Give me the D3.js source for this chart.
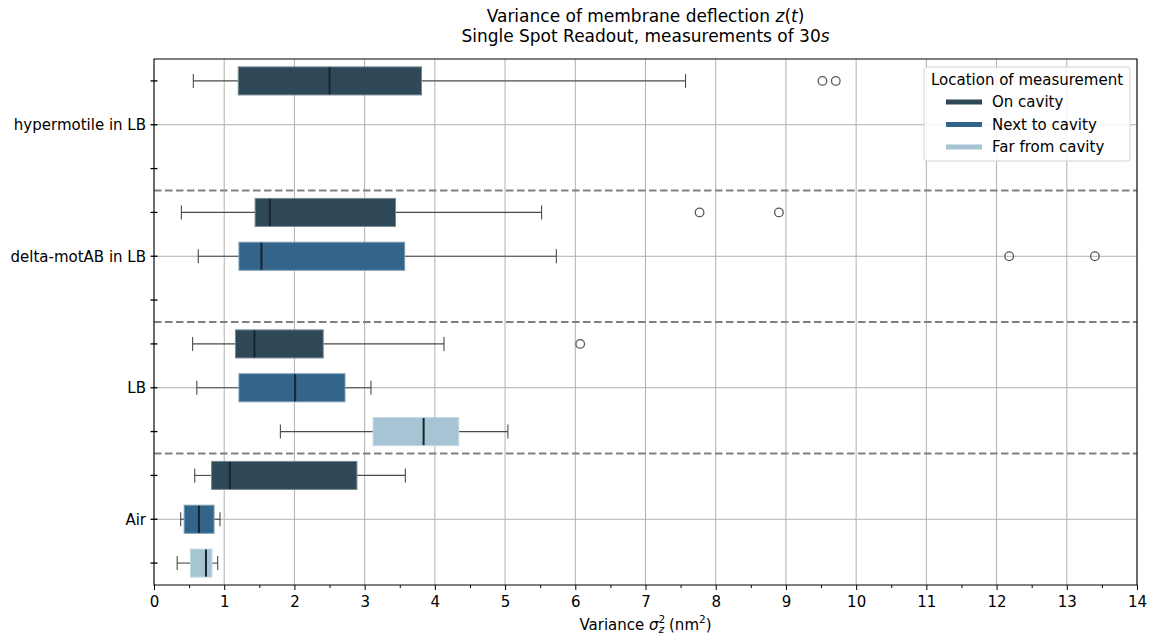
<!DOCTYPE html>
<html>
<head>
<meta charset="utf-8">
<script src="https://cdn.jsdelivr.net/npm/d3@7"></script>
<style>
  html, body { margin: 0; padding: 0; background: #ffffff; }
  svg { display: block; font-family: "DejaVu Sans", sans-serif; }
</style>
</head>
<body>
<svg id="chart" width="1155" height="640"></svg>
<script>
// Sample groups (y axis) and measurement locations (hue)
const groups = ["hypermotile in LB", "delta-motAB in LB", "LB", "Air"];
const locations = ["On cavity", "Next to cavity", "Far from cavity"];
const locationColors = ["#2f4858", "#33658a", "#a6c4d4"];

// Box statistics, one entry per drawn box
const boxGroup    = ["hypermotile in LB", "delta-motAB in LB", "delta-motAB in LB", "LB", "LB", "LB", "Air", "Air", "Air"];
const boxLocation = ["On cavity", "On cavity", "Next to cavity", "On cavity", "Next to cavity", "Far from cavity", "On cavity", "Next to cavity", "Far from cavity"];
const whiskerLow  = [0.56, 0.39, 0.63, 0.55, 0.61, 1.80, 0.58, 0.38, 0.33];
const quartile1   = [1.20, 1.44, 1.21, 1.16, 1.21, 3.12, 0.82, 0.43, 0.52];
const medians     = [2.50, 1.65, 1.53, 1.43, 2.01, 3.84, 1.08, 0.64, 0.74];
const quartile3   = [3.81, 3.44, 3.57, 2.41, 2.72, 4.34, 2.89, 0.855, 0.826];
const whiskerHigh = [7.57, 5.52, 5.73, 4.13, 3.09, 5.04, 3.58, 0.94, 0.907];
const outliers    = [[9.52, 9.71], [7.77, 8.90], [12.18, 13.40], [6.07], [], [], [], [], []];

const xTicks = [0, 1, 2, 3, 4, 5, 6, 7, 8, 9, 10, 11, 12, 13, 14];

const svg = d3.select("#chart");
const margin = { left: 154, right: 1137, top: 59, bottom: 585 };
const fontSize = 15;

const x = d3.scaleLinear().domain([0, 14]).range([margin.left, margin.right]);
// each group has three slots, one per location
const slotCount = groups.length * locations.length;
const y = d3.scaleLinear().domain([-0.5, slotCount - 0.5]).range([margin.top, margin.bottom]);
const slotOf = (g, loc) => groups.indexOf(g) * locations.length + locations.indexOf(loc);
const slotH = y(1) - y(0);
const boxH = slotH * 0.64;
const color = d3.scaleOrdinal().domain(locations).range(locationColors);

const plot = svg.append("g");

// Grid: vertical lines at every integer, horizontal lines at group centres
plot.append("g").selectAll("line").data(xTicks).join("line")
  .attr("x1", d => x(d)).attr("x2", d => x(d))
  .attr("y1", margin.top).attr("y2", margin.bottom)
  .attr("stroke", "#b0b0b0").attr("stroke-width", 1);
plot.append("g").selectAll("line").data(groups).join("line")
  .attr("x1", margin.left).attr("x2", margin.right)
  .attr("y1", (d, i) => y(i * 3 + 1)).attr("y2", (d, i) => y(i * 3 + 1))
  .attr("stroke", "#b0b0b0").attr("stroke-width", 1);

// Dashed separators between groups
plot.append("g").selectAll("line").data(d3.range(1, groups.length)).join("line")
  .attr("x1", margin.left).attr("x2", margin.right)
  .attr("y1", d => y(d * 3 - 0.5)).attr("y2", d => y(d * 3 - 0.5))
  .attr("stroke", "#808080").attr("stroke-width", 1.8).attr("stroke-dasharray", "7.5,3.5");

// Boxes
const boxes = boxGroup.map((g, i) => ({
  slot: slotOf(g, boxLocation[i]), loc: boxLocation[i],
  lo: whiskerLow[i], q1: quartile1[i], med: medians[i], q3: quartile3[i], hi: whiskerHigh[i],
  out: outliers[i]
}));

const bg = plot.append("g").selectAll("g").data(boxes).join("g");
const whiskerColor = "#4a4a4a";
// whiskers
bg.append("line")
  .attr("x1", d => x(d.lo)).attr("x2", d => x(d.q1))
  .attr("y1", d => y(d.slot)).attr("y2", d => y(d.slot))
  .attr("stroke", whiskerColor).attr("stroke-width", 1.1);
bg.append("line")
  .attr("x1", d => x(d.q3)).attr("x2", d => x(d.hi))
  .attr("y1", d => y(d.slot)).attr("y2", d => y(d.slot))
  .attr("stroke", whiskerColor).attr("stroke-width", 1.1);
// caps
["lo", "hi"].forEach(k => {
  bg.append("line")
    .attr("x1", d => x(d[k])).attr("x2", d => x(d[k]))
    .attr("y1", d => y(d.slot) - boxH / 4).attr("y2", d => y(d.slot) + boxH / 4)
    .attr("stroke", whiskerColor).attr("stroke-width", 1.1);
});
// box body
bg.append("rect")
  .attr("x", d => x(d.q1)).attr("width", d => x(d.q3) - x(d.q1))
  .attr("y", d => y(d.slot) - boxH / 2).attr("height", boxH)
  .attr("fill", d => color(d.loc))
  .attr("stroke", d => d3.interpolateRgb(color(d.loc), "#ffffff")(0.35))
  .attr("stroke-width", 1);
// median
bg.append("line")
  .attr("x1", d => x(d.med)).attr("x2", d => x(d.med))
  .attr("y1", d => y(d.slot) - boxH / 2 + 0.5).attr("y2", d => y(d.slot) + boxH / 2 - 0.5)
  .attr("stroke", "#16242d").attr("stroke-width", 2);
// outliers
bg.selectAll("circle").data(d => d.out.map(v => ({ v, slot: d.slot }))).join("circle")
  .attr("cx", d => x(d.v)).attr("cy", d => y(d.slot)).attr("r", 4.3)
  .attr("fill", "none").attr("stroke", "#5a5a5a").attr("stroke-width", 1.3);

// Frame
svg.append("rect")
  .attr("x", margin.left).attr("y", margin.top)
  .attr("width", margin.right - margin.left).attr("height", margin.bottom - margin.top)
  .attr("fill", "none").attr("stroke", "#000").attr("stroke-width", 1);

// X axis
const xAxis = svg.append("g").attr("transform", `translate(0,${margin.bottom})`)
  .call(d3.axisBottom(x).tickValues(xTicks).tickFormat(d3.format("d")).tickSize(5).tickPadding(6));
xAxis.select(".domain").remove();
xAxis.selectAll("text").attr("font-size", fontSize).attr("fill", "#000").attr("font-family", "DejaVu Sans");
xAxis.selectAll("line").attr("stroke", "#000");
svg.append("g").attr("transform", `translate(0,${margin.bottom})`)
  .call(d3.axisBottom(x).tickValues(d3.range(0.5, 14, 1)).tickFormat("").tickSize(3))
  .call(g => g.select(".domain").remove())
  .selectAll("line").attr("stroke", "#000");

// Y axis: ticks at every slot (crossing the spine), labels at group centres
const yTicks = d3.range(slotCount);
const ya = svg.append("g");
ya.selectAll("line").data(yTicks).join("line")
  .attr("x1", margin.left - 3.5).attr("x2", margin.left + 3.5)
  .attr("y1", d => y(d)).attr("y2", d => y(d))
  .attr("stroke", "#000").attr("stroke-width", 1.3);
ya.selectAll("text").data(groups).join("text")
  .attr("x", margin.left - 8).attr("y", (d, i) => y(i * 3 + 1))
  .attr("dy", "0.35em").attr("text-anchor", "end")
  .attr("font-size", fontSize).attr("fill", "#000")
  .text(d => d);

// X label with math styling
const xl = svg.append("text").attr("x", (margin.left + margin.right) / 2).attr("y", 630)
  .attr("text-anchor", "middle").attr("font-size", fontSize).attr("fill", "#000");
xl.append("tspan").text("Variance ");
xl.append("tspan").attr("font-style", "italic").text("σ");
xl.append("tspan").attr("font-size", 10.5).attr("dy", -7).text("2");
xl.append("tspan").attr("font-size", 10.5).attr("font-style", "italic").attr("dx", -6.5).attr("dy", 10).text("z");
xl.append("tspan").attr("dy", -3).text(" (nm");
xl.append("tspan").attr("font-size", 10.5).attr("dy", -7).text("2");
xl.append("tspan").attr("dy", 7).text(")");

// Title (two lines)
const cx = (margin.left + margin.right) / 2;
const titleSize = 17;
const t1 = svg.append("text").attr("x", cx).attr("y", 21.5).attr("text-anchor", "middle")
  .attr("font-size", titleSize).attr("fill", "#000");
t1.append("tspan").text("Variance of membrane deflection ");
t1.append("tspan").attr("font-style", "italic").text("z");
t1.append("tspan").text("(");
t1.append("tspan").attr("font-style", "italic").text("t");
t1.append("tspan").text(")");
const t2 = svg.append("text").attr("x", cx).attr("y", 41.5).attr("text-anchor", "middle")
  .attr("font-size", titleSize).attr("fill", "#000");
t2.append("tspan").text("Single Spot Readout, measurements of 30");
t2.append("tspan").attr("font-style", "italic").text("s");

// Legend
const lg = svg.append("g").attr("transform", "translate(924,67)");
lg.append("rect").attr("width", 206).attr("height", 94).attr("rx", 3)
  .attr("fill", "#ffffff").attr("fill-opacity", 0.85)
  .attr("stroke", "#d5d5d5").attr("stroke-width", 1);
lg.append("text").attr("x", 103).attr("y", 18).attr("text-anchor", "middle")
  .attr("font-size", fontSize).attr("fill", "#000").text("Location of measurement");
const li = lg.selectAll("g.item").data(locations).join("g").attr("class", "item")
  .attr("transform", (d, i) => `translate(0,${35 + i * 22.5})`);
li.append("line").attr("x1", 22).attr("x2", 58).attr("y1", 0).attr("y2", 0)
  .attr("stroke", d => color(d)).attr("stroke-width", 5);
li.append("text").attr("x", 68).attr("y", 0).attr("dy", "0.35em")
  .attr("font-size", fontSize).attr("fill", "#000").text(d => d);
</script>
</body>
</html>
